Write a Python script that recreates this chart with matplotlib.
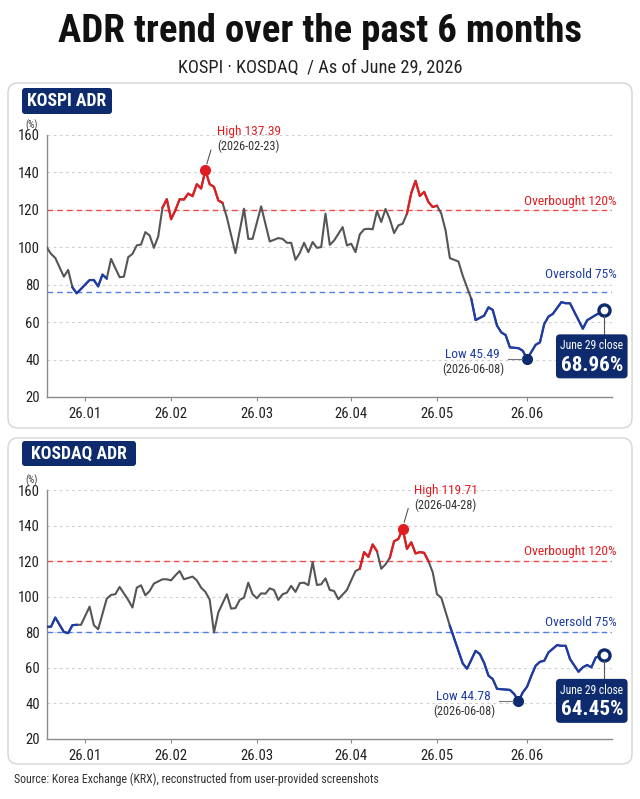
import matplotlib
matplotlib.use("Agg")
import matplotlib.pyplot as plt
import matplotlib.transforms as mtransforms
from matplotlib.lines import Line2D
from matplotlib.patches import FancyBboxPatch
import numpy as np

plt.rcParams["font.family"] = ["Roboto Condensed", "Liberation Sans Narrow", "Roboto", "DejaVu Sans"]

W, H = 640, 799

# ADR (%) per trading session
kospi_x = [0, 1, 2, 4, 5, 6, 7, 10, 11, 12, 13, 14, 15, 17, 18, 19, 20, 21, 22, 23,
           24, 25, 26, 27, 28, 29, 30, 31, 32, 33, 34, 35, 36, 37, 38, 39, 40, 41, 42, 44,
           46, 47, 48, 50, 52, 54, 55, 56, 57, 58, 59, 60, 61, 62, 63, 64, 65, 66, 67, 69,
           70, 71, 72, 73, 74, 75, 76, 77, 78, 79, 80, 81, 82, 83, 84, 85, 86, 87, 88, 89,
           90, 91, 92, 93, 94, 96, 97, 99, 100, 102, 103, 104, 105, 106, 107, 108, 110, 111, 112, 114,
           115, 116, 117, 118, 120, 121, 122, 125, 126, 128, 130]
kospi_adr = [100, 96.5, 94.3, 84.3, 87.9, 78.6, 75.4, 82.5, 82.5, 79.1, 85.4, 83.3, 93.8, 84.0, 84.3, 94.7, 96.5, 101.0, 101.5, 108.1,
             106.3, 99.7, 105.8, 121.2, 125.7, 115.0, 119.8, 125.7, 125.5, 128.7, 127.3, 133.7, 131.4, 141.2, 133.7, 132.3, 125.1, 123.7, 116.0, 96.9,
             120.6, 104.5, 104.5, 121.9, 103.1, 104.9, 104.5, 102.4, 102.4, 93.3, 96.9, 102.4, 97.4, 102.8, 99.7, 100.1, 118.0, 101.3, 103.6, 110.8,
             101.0, 101.9, 97.4, 106.9, 109.6, 109.9, 109.6, 119.4, 113.5, 120.5, 115.0, 107.6, 111.7, 112.6, 118.0, 129.0, 135.5, 127.4, 129.6, 124.2,
             121.5, 122.2, 118.0, 109.0, 94.2, 92.4, 84.8, 72.4, 61.1, 63.5, 67.9, 66.5, 58.1, 54.5, 53.1, 46.5, 46.1, 44.7, 40.3, 47.9,
             49.2, 59.0, 63.0, 64.4, 70.7, 70.1, 70.1, 56.5, 61.0, 63.8, 66.3]

kosdaq_x = [0, 1, 2, 4, 5, 6, 7, 8, 10, 11, 12, 14, 15, 16, 17, 19, 20, 21, 22, 23,
            24, 25, 27, 28, 29, 30, 31, 32, 34, 35, 36, 37, 38, 39, 40, 42, 43, 44, 45, 46,
            47, 48, 49, 50, 51, 52, 53, 54, 55, 56, 57, 58, 59, 60, 61, 62, 63, 64, 65, 66,
            67, 68, 70, 71, 72, 73, 74, 75, 76, 77, 78, 79, 80, 81, 82, 83, 84, 85, 86, 87,
            88, 89, 90, 91, 92, 94, 97, 98, 100, 101, 102, 103, 104, 105, 107, 108, 109, 110, 111, 112,
            113, 114, 115, 116, 117, 119, 120, 121, 122, 124, 125, 126, 127, 128, 130]
kosdaq_adr = [83.1, 83.1, 88.3, 80.2, 79.5, 84.0, 84.2, 84.2, 94.4, 84.0, 81.7, 98.9, 101.0, 101.4, 105.5, 98.2, 93.9, 105.1, 106.4, 100.8,
              103.2, 107.4, 109.8, 109.8, 109.2, 112.0, 114.4, 109.8, 111.3, 109.2, 105.1, 102.7, 98.4, 79.9, 91.1, 101.4, 93.3, 93.6, 98.2, 99.5,
              107.9, 101.4, 99.1, 101.9, 101.7, 104.7, 103.8, 98.2, 101.4, 102.3, 106.1, 102.7, 107.6, 107.9, 106.5, 119.5, 106.6, 107.0, 110.3, 103.8,
              103.2, 98.6, 103.8, 109.2, 114.4, 115.7, 125.1, 122.4, 129.4, 125.6, 115.7, 118.2, 121.9, 131.2, 132.5, 138.3, 126.9, 130.6, 124.3, 125.1,
              124.7, 120.0, 113.7, 101.4, 99.4, 83.6, 62.5, 59.5, 69.6, 67.7, 62.7, 55.6, 53.7, 48.2, 47.8, 47.6, 45.3, 41.3, 46.2, 49.4,
              55.6, 61.2, 63.4, 64.0, 68.7, 72.8, 72.4, 72.4, 65.0, 57.8, 60.3, 61.6, 60.3, 65.8, 67.3]

month_pos = [9, 29, 49, 71, 91, 112]
month_labels = ["26.01", "26.02", "26.03", "26.04", "26.05", "26.06"]
y_ticks = [20, 40, 60, 80, 100, 120, 140, 160]

# session runs the source paints red (overbought) or blue (oversold)
kospi_red = [(27, 41), (84, 91)]
kospi_blue = [(6, 14), (99, 130)]
kosdaq_red = [(73, 77), (80, 89)]
kosdaq_blue = [(0, 7), (94, 130)]

overbought = 120
oversold_drawn = [76, 80]   # the source draws its "75%" line at these heights
high_text = ["High 137.39", "High 119.71"]
high_date = ["(2026-02-23)", "(2026-04-28)"]
low_text = ["Low 45.49", "Low 44.78"]
low_date = ["(2026-06-08)", "(2026-06-08)"]
close_text = ["68.96%", "64.45%"]

NAVY = "#0e2b6e"
RED = "#e11d22"
BLUE = "#1d3ca6"
GRAY = "#555555"
PIX = mtransforms.IdentityTransform()

fig = plt.figure(figsize=(W / 100, H / 100), dpi=100)
fig.patch.set_facecolor("white")


def ftext(x, y_top, s, **kw):
    return fig.text(x, H - y_top, s, transform=PIX, **kw)


ftext(320, 31, "ADR trend over the past 6 months", fontsize=28, fontweight="bold",
      ha="center", va="center", color="#111111")
ftext(320, 67, "KOSPI \u00b7 KOSDAQ  / As of June 29, 2026", fontsize=13.2,
      ha="center", va="center", color="#222222")
ftext(14, 779, "Source: Korea Exchange (KRX), reconstructed from user-provided screenshots",
      fontsize=8.6, ha="left", va="center", color="#333333")

panels = [
    dict(name="KOSPI ADR", xs=kospi_x, ys=kospi_adr, red=kospi_red, blue=kospi_blue,
         frame=(83, 428), tag=(22, 88, 90, 26), ax=(135, 397), ob_y=201, os_y=275),
    dict(name="KOSDAQ ADR", xs=kosdaq_x, ys=kosdaq_adr, red=kosdaq_red, blue=kosdaq_blue,
         frame=(438, 764), tag=(22, 441, 114, 25), ax=(490, 739), ob_y=552, os_y=623),
]

for i, p in enumerate(panels):
    ft, fb = p["frame"]
    fig.add_artist(FancyBboxPatch((8, H - fb), 624, fb - ft,
                                  boxstyle="round,pad=0,rounding_size=10",
                                  fc="white", ec="#d4d4d4", lw=1, transform=PIX, zorder=-2))
    tx, ty, tw, th = p["tag"]
    fig.add_artist(FancyBboxPatch((tx, H - ty - th), tw, th,
                                  boxstyle="round,pad=0,rounding_size=3",
                                  fc=NAVY, ec="none", transform=PIX, zorder=2))
    ftext(tx + tw / 2, ty + th / 2 + 0.5, p["name"], fontsize=12.8, fontweight="bold",
          color="white", ha="center", va="center")

    top, bot = p["ax"]
    ax = fig.add_axes([46.7 / W, 1 - bot / H, (612 - 46.7) / W, (bot - top) / H])
    ax.patch.set_alpha(0)
    ax.set_xlim(0, 131.8)
    ax.set_ylim(20, 160)
    ax.set_xticks(month_pos)
    ax.set_xticklabels(month_labels)
    ax.set_yticks(y_ticks)
    for s in ("top", "right"):
        ax.spines[s].set_visible(False)
    for s in ("left", "bottom"):
        ax.spines[s].set_color("#8a8a8a")
        ax.spines[s].set_linewidth(1.0)
    ax.tick_params(axis="y", length=0, pad=5, labelsize=10.6, labelcolor="#222222")
    ax.tick_params(axis="x", length=3, color="#8a8a8a", pad=4, labelsize=10.6, labelcolor="#222222")
    for g in y_ticks[1:]:
        ax.axhline(g, color="#cfcfcf", lw=0.8, ls=(0, (2.5, 3)), zorder=1)
    ax.axhline(overbought, color="#f04a4a", lw=1.0, ls=(0, (4, 3)), zorder=2)
    ax.axhline(oversold_drawn[i], color="#4f7fe6", lw=1.0, ls=(0, (4, 3)), zorder=2)
    ftext(617, p["ob_y"], "Overbought 120%", fontsize=9.6, color=RED, ha="right", va="center")
    ftext(617, p["os_y"], "Oversold 75%", fontsize=9.6, color=BLUE, ha="right", va="center")
    ftext(25, top - 10, "(%)", fontsize=7, color="#333333", ha="left", va="center")

    xs = np.array(p["xs"])
    ys = np.array(p["ys"])
    ax.plot(xs, ys, color=GRAY, lw=1.5, zorder=3, solid_joinstyle="round")
    for runs, col in ((p["red"], RED), (p["blue"], BLUE)):
        for a, b in runs:
            m = (xs >= a) & (xs <= b)
            ax.plot(xs[m], ys[m], color=col, lw=1.6, zorder=4, solid_joinstyle="round")

    # high
    k = int(np.argmax(ys))
    ax.plot(xs[k], ys[k], "o", color=RED, ms=7, zorder=6)
    mx, my = ax.transData.transform((xs[k], ys[k]))
    fig.add_artist(Line2D([mx + 1.5, mx + 5.5], [my + 6.5, my + 20], color="#555555",
                          lw=0.8, transform=PIX))
    fig.text(mx + 11.5, my + 38.5, high_text[i], transform=PIX, fontsize=9.6, color=RED,
             ha="left", va="center")
    fig.text(mx + 11.5, my + 23.5, high_date[i], transform=PIX, fontsize=8.8, color="#333333",
             ha="left", va="center")

    # low
    k = int(np.argmin(ys))
    ax.plot(xs[k], ys[k], "o", color=NAVY, ms=7, zorder=6)
    mx, my = ax.transData.transform((xs[k], ys[k]))
    fig.add_artist(Line2D([mx - 19, mx - 5], [my, my], color="#777777", lw=0.8, transform=PIX))
    fig.text(mx - 55, my + 4.5, low_text[i], transform=PIX, fontsize=9.6, color=BLUE,
             ha="center", va="center")
    fig.text(mx - 54, my - 10, low_date[i], transform=PIX, fontsize=8.8, color="#333333",
             ha="center", va="center")

    # last close
    ax.plot(xs[-1], ys[-1], "o", mfc="white", mec=NAVY, mew=2.4, ms=8, zorder=7)
    mx, my = ax.transData.transform((xs[-1], ys[-1]))
    fig.add_artist(Line2D([mx - 0.5, mx - 0.5], [my - 6, my - 24], color="#555555",
                          lw=0.8, transform=PIX))
    fig.add_artist(FancyBboxPatch((mx - 48.3, my - 68), 71.6, 44,
                                  boxstyle="round,pad=0,rounding_size=4",
                                  fc=NAVY, ec="none", transform=PIX, zorder=4))
    fig.text(mx - 12.5, my - 35.5, "June 29 close", transform=PIX, fontsize=8.3,
             color="white", ha="center", va="center", zorder=5)
    fig.text(mx - 12.5, my - 55, close_text[i], transform=PIX, fontsize=15.2,
             fontweight="bold", color="white", ha="center", va="center", zorder=5)

fig.savefig("out.png", dpi=100, facecolor="white")
